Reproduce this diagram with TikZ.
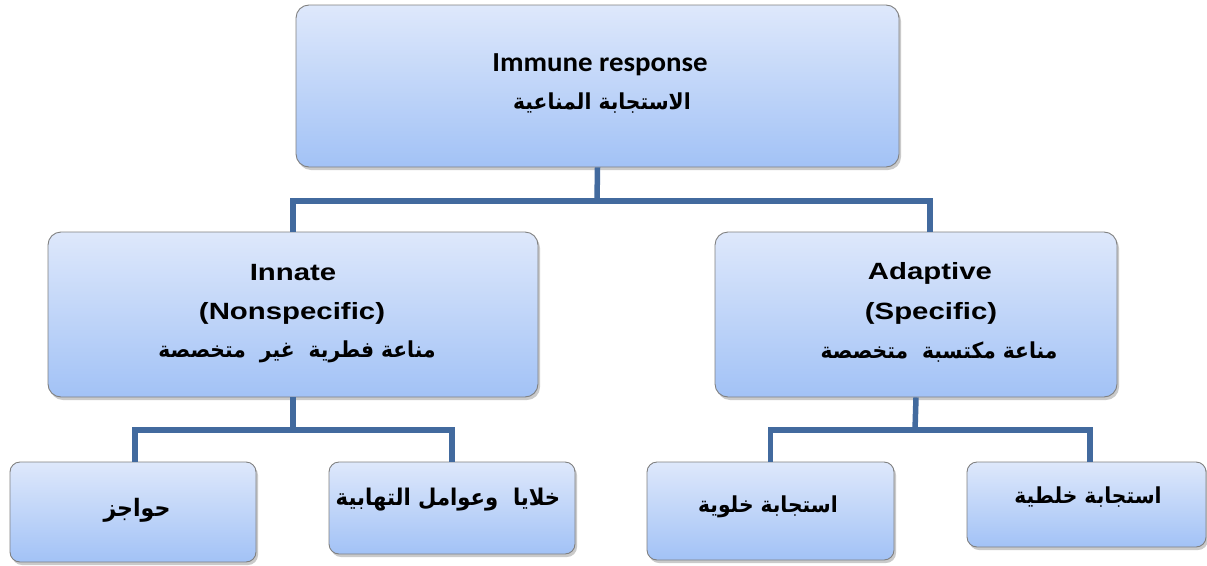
\documentclass[tikz,border=0pt]{standalone}
\usepackage{fontspec}
\usetikzlibrary{shadows}
\setmainfont{Liberation Sans}
\newfontfamily\calib{Carlito}
\newfontfamily\arabicfont[Script=Arabic]{DejaVu Sans}
\TeXXeTstate=1
\definecolor{boxtop}{RGB}{222,232,251}
\definecolor{boxbot}{RGB}{162,194,246}
\definecolor{boxline}{RGB}{128,128,128}
\definecolor{connc}{RGB}{66,106,158}
\tikzset{
  box/.style={rectangle, rounded corners=13pt, draw=boxline, line width=0.9pt,
    top color=boxtop, bottom color=boxbot, inner sep=0pt,
    drop shadow={shadow xshift=2pt, shadow yshift=-3pt, opacity=0.35, fill=black!60}},
  smallbox/.style={box, rounded corners=10pt},
  conn/.style={draw=connc, line width=5.5pt},
  txt/.style={align=center, inner sep=0pt},
}
\newcommand{\ar}[2][22]{{\arabicfont\bfseries\fontsize{#1}{26}\selectfont\scalebox{0.92}[1]{\beginR #2\endR}}}
\newcommand{\en}[1]{{\fontsize{23.5}{28}\selectfont\bfseries\scalebox{1.25}[1]{#1}}}
\begin{document}
\begin{tikzpicture}[x=1pt,y=-1pt]
\useasboundingbox (0,0) rectangle (1207,565);
\coordinate (j1) at (597,201);
\coordinate (j2) at (293,430);
\coordinate (j3) at (915,430);
% boxes
\node[box, minimum width=603pt, minimum height=162pt] (top) at (597.5,86) {};
\node[box, minimum width=490pt, minimum height=165pt] (innate) at (293,314.5) {};
\node[box, minimum width=402pt, minimum height=165pt] (adaptive) at (916,314.5) {};
\node[smallbox, minimum width=246pt, minimum height=100pt] (hawajez) at (133,512) {};
\node[smallbox, minimum width=246pt, minimum height=92pt] (khalaya) at (452,508) {};
\node[smallbox, minimum width=247pt, minimum height=98pt] (khalawiya) at (770.5,511) {};
\node[smallbox, minimum width=239pt, minimum height=85pt] (khaltiya) at (1086.5,504.5) {};
% texts
\node[txt] (topt1) at (600,65) {\calib\bfseries\fontsize{27.5}{30}\selectfont\scalebox{1.05}[1]{Immune response}};
\node[txt] (topt2) at (602,103) {\ar{الاستجابة المناعية}};
\node[txt] (innt1) at (293,273) {\en{Innate}};
\node[txt] (innt2) at (292,313) {\en{(Nonspecific)}};
\node[txt] (innt3) at (297,352) {\ar{مناعة فطرية\ \ غير\ \ متخصصة}};
\node[txt] (adat1) at (930,273) {\en{Adaptive}};
\node[txt] (adat2) at (931,313) {\en{(Specific)}};
\node[txt] (adat3) at (939,352) {\ar{مناعة مكتسبة\ \ متخصصة}};
\node[txt] (hawt) at (137,510) {\ar[24]{حواجز}};
\node[txt] (khat) at (448,500) {\ar[23]{خلايا\ \ وعوامل التهابية}};
\node[txt] (khwt) at (768,507) {\ar{استجابة خلوية}};
\node[txt] (khtt) at (1088,497) {\ar{استجابة خلطية}};
% connectors
\draw[conn] (top.south) -- (j1);
\draw[conn] (innate.north) |- (j1) -| ([xshift=14pt]adaptive.north);
\draw[conn] (innate.south) -- (j2);
\draw[conn] ([xshift=2pt]hawajez.north) |- (j2) -| (khalaya.north);
\draw[conn] (adaptive.south) -- (j3);
\draw[conn] (khalawiya.north) |- (j3) -| ([xshift=3.5pt]khaltiya.north);
\end{tikzpicture}
\end{document}
